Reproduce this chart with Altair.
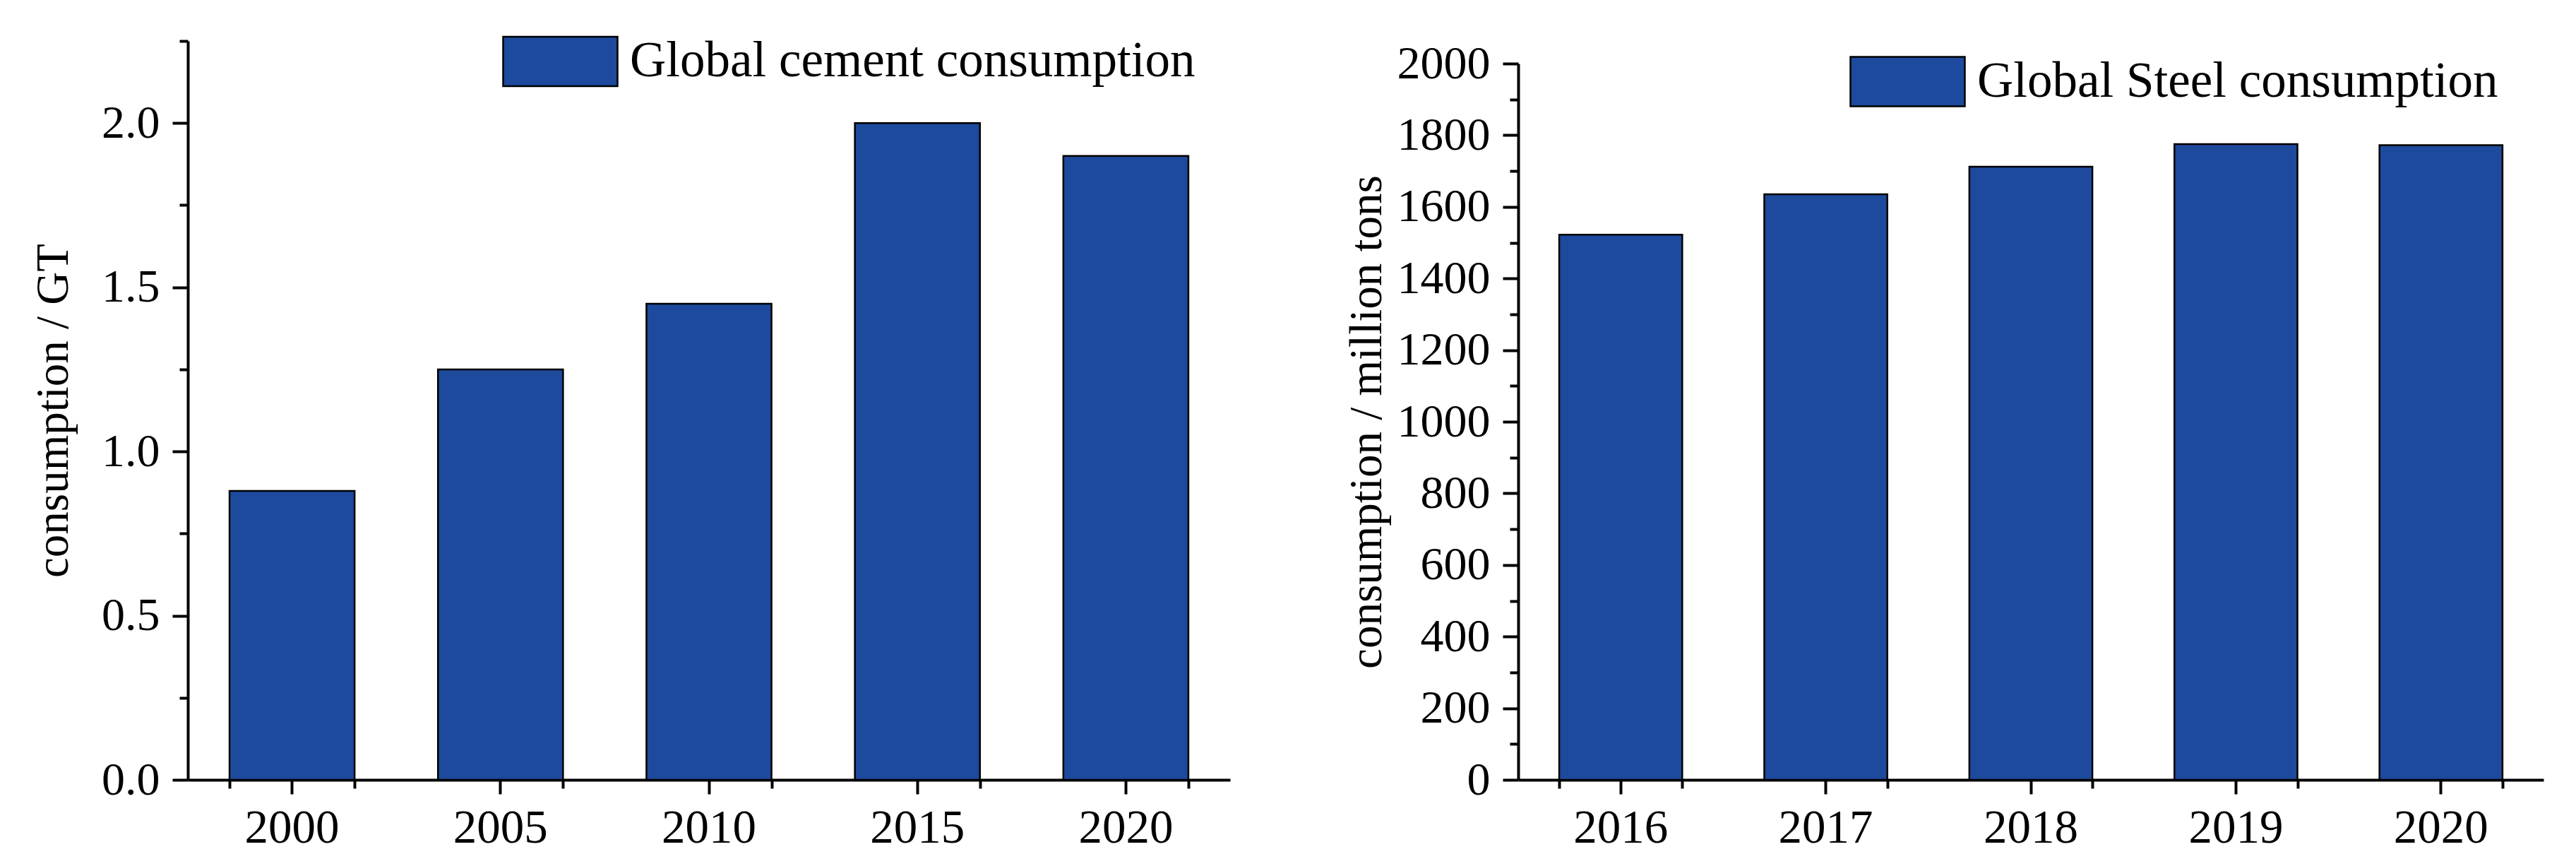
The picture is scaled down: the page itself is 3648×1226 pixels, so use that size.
import altair as alt
import pandas as pd

# ---- data ----
cement_years = ["2000", "2005", "2010", "2015", "2020"]
cement_values = [0.88, 1.25, 1.45, 2.0, 1.9]
cement_series = "Global cement consumption"
cement_major = [0.0, 0.5, 1.0, 1.5, 2.0]
cement_minor = [0.25, 0.75, 1.25, 1.75, 2.25]

steel_years = ["2016", "2017", "2018", "2019", "2020"]
steel_values = [1522, 1635, 1712, 1775, 1772]
steel_series = "Global Steel consumption"
steel_major = [0, 200, 400, 600, 800, 1000, 1200, 1400, 1600, 1800, 2000]
steel_minor = [100, 300, 500, 700, 900, 1100, 1300, 1500, 1700, 1900]

FONT = "Liberation Serif"
BLUE = "#1D4A9C"
INK = "black"
AXW = 4
PLOT_H = 1046


def panel(years, values, series, ydomain, yrange, major, minor, fmt, ytitle,
          width, leg_x, leg_y, title_pad):
    df = pd.DataFrame({"year": years, "value": values,
                       "series": [series] * len(years)})
    xscale = alt.Scale(paddingInner=0.4, paddingOuter=0.2)
    if yrange is None:
        yscale = alt.Scale(domain=ydomain, nice=False, zero=True)
    else:
        yscale = alt.Scale(domain=ydomain, nice=False, zero=True, range=yrange)

    major_x = alt.Axis(title=None, orient="bottom", labelAngle=0, labelFont=FONT,
                       labelFontSize=67, labelColor=INK, labelPadding=15,
                       tickSize=20, tickWidth=AXW, tickColor=INK,
                       domainWidth=AXW, domainColor=INK, grid=False)
    minor_x = alt.Axis(title=None, orient="bottom", labels=False, domain=False,
                       tickBand="extent", tickSize=12, tickWidth=AXW,
                       tickColor=INK, grid=False)
    major_y = alt.Axis(title=ytitle, orient="left", values=major, format=fmt,
                       labelFont=FONT, labelFontSize=66, labelColor=INK,
                       labelPadding=18, tickSize=22, tickWidth=AXW, tickColor=INK,
                       domainWidth=AXW, domainColor=INK, grid=False,
                       titleFont=FONT, titleFontSize=65, titleFontWeight="normal",
                       titleColor=INK, titlePadding=title_pad)
    minor_y = alt.Axis(title=None, orient="left", values=minor, labels=False,
                       domain=False, tickSize=12, tickWidth=AXW, tickColor=INK,
                       grid=False)

    legend = alt.Legend(orient="none", legendX=leg_x, legendY=leg_y, title=None,
                        padding=0, labelFont=FONT, labelFontSize=71,
                        labelColor=INK, labelOffset=62, labelLimit=0,
                        symbolType="M-2.314,-1H2.314V1H-2.314Z",
                        symbolSize=4900, symbolStrokeColor=INK,
                        symbolStrokeWidth=2.5, symbolOpacity=1)

    bars = alt.Chart(df).mark_bar(stroke=INK, strokeWidth=2.5, opacity=1).encode(
        x=alt.X("year:O", sort=years, scale=xscale, axis=major_x),
        y=alt.Y("value:Q", scale=yscale, axis=major_y),
        color=alt.Color("series:N",
                        scale=alt.Scale(domain=[series], range=[BLUE]),
                        legend=legend),
    )
    ticks_minor = alt.Chart(df).mark_bar(opacity=0).encode(
        x=alt.X("year:O", sort=years, axis=minor_x),
        y=alt.Y("value:Q", axis=minor_y),
    )
    return (alt.layer(bars, ticks_minor)
            .resolve_axis(x="independent", y="independent")
            .properties(width=width, height=PLOT_H))


left = panel(cement_years, cement_values, cement_series, [0, 2.25], None,
             cement_major, cement_minor, ".1f", "consumption / GT",
             1476, 491, -7.5, 34)
right = panel(steel_years, steel_values, steel_series, [0, 2000], [PLOT_H, 32],
              steel_major, steel_minor, "d", "consumption / million tons",
              1452, 515, 21, 9)

chart = (alt.hconcat(left, right, spacing=408, bounds="flush")
         .resolve_scale(color="independent")
         .properties(padding={"left": 35, "top": 42, "right": 5, "bottom": 5},
                     background="white")
         .configure_view(stroke=None))

chart.save("out.html", embed_options={"renderer": "svg", "actions": False})
